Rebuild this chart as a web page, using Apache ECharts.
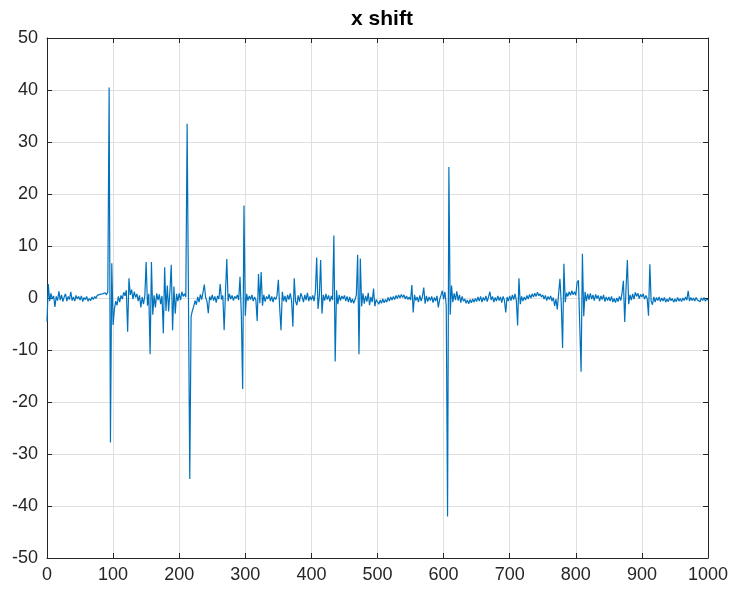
<!DOCTYPE html>
<html>
<head>
<meta charset="utf-8">
<title>x shift</title>
<script src="https://cdn.jsdelivr.net/npm/echarts@6/dist/echarts.min.js"></script>
<style>
  html, body { margin: 0; padding: 0; background: #fff; }
  #chart { width: 735px; height: 595px; }
</style>
</head>
<body>
<div id="chart"></div>
<script>
// samples are taken every 2 frames
const sampleStep = 2;
const xShift = [
  // 0 - 48
  -4.5, 2.7, -0.6, 0.9, -0.2, 0.4, -1.7, 0.3, -0.5, 1.3, -0.4, 0.6, -0.7, 0.2, 0.8, -0.6, 0.3, -0.3, 1.2, -0.5, 0.2, -0.6, 0.5, -0.2, 0.3,
  // 50 - 98
  -0.4, 0.4, -0.7, 0.1, -0.3, 0.3, -0.6, -0.1, -0.5, 0.2, -0.3, 0.3, -0.1, 0.5, 0.2, 0.7, 0.4, 0.8, 0.5, 1.0, 0.6, 1.2, 40.5, -27.8, 6.7,
  // 100 - 148
  -5.2, -2.1, -0.6, -1.4, 0.3, -0.8, 0.5, -0.2, 1.1, 0.4, 1.5, -6.5, 3.8, 0.6, 1.6, -0.2, 1.2, 0.1, 0.8, -0.6, 0.5, -1.8, 0.2, -1.2, 0.4,
  // 150 - 198
  6.9, -1.5, 0.8, -10.8, 6.9, -3.2, 0.5, -1.8, 0.9, -0.4, 0.7, -1.2, 0.4, -6.8, 5.9, -2.5, 2.4, -2.6, 1.4, 6.4, -6.2, 2.2, -3.0, 0.8, -0.6,
  // 200 - 248
  0.9, -0.4, 1.2, 0.3, 0.8, 0.2, 33.5, 0.4, -34.8, -3.6, -2.4, -1.6, -0.5, -1.3, 0.2, -0.8, 0.7, -0.3, 1.1, 2.6, 0.1, -0.6, -2.9, 0.3, -0.4,
  // 250 - 298
  0.6, -0.5, 0.3, -0.9, 0.4, -0.2, 2.7, -0.3, 0.5, -6.2, 1.0, 7.5, -0.6, 0.8, -0.2, 0.5, -0.5, 0.3, -0.1, 0.6, -0.4, 4.1, -3.2, -17.5, 17.8,
  // 300 - 348
  -3.4, 0.8, -0.5, 0.4, -0.3, 0.6, -0.6, 0.2, -0.4, -4.4, 4.6, -1.0, 5.0, -1.5, 0.6, -0.7, 0.3, -0.2, 0.7, -0.6, 0.3, -0.8, 0.2, -0.3, 0.5,
  // 350 - 398
  3.5, -1.8, -6.2, 1.2, -0.6, 0.4, -0.8, 0.6, -0.3, 0.9, -0.5, -5.5, 3.8, -0.6, -1.4, 0.5, -0.7, 0.9, 0.2, -0.8, 0.6, -0.4, 1.0, -0.6, 0.3,
  // 400 - 448
  -0.4, 0.5, -0.6, 1.1, 7.8, -2.1, 0.4, 7.3, -3.0, 0.6, -0.5, 0.8, -0.3, 0.5, -0.7, 0.4, -0.4, 12.0, -12.2, 1.5, -1.2, 0.6, -0.5, 0.4, -0.2,
  // 450 - 498
  0.5, -0.6, 0.3, -0.8, 0.2, -0.9, -0.2, -1.0, -0.3, 0.6, 8.3, -10.8, 7.6, -1.6, 0.9, -1.1, 0.4, -0.7, 1.0, -1.4, 0.2, -0.8, 1.8, -1.6, -0.3,
  // 500 - 548
  -0.6, -1.2, -0.4, -1.0, -0.2, -0.9, -0.3, -0.8, 0.1, -0.6, 0.2, -0.4, 0.3, -0.3, 0.5, -0.1, 0.6, 0.0, 0.7, 0.1, 0.6, -0.2, 0.4, -0.3, 0.2,
  // 550 - 598
  -0.4, 2.5, -2.8, 0.6, -0.5, 0.2, -0.8, 0.5, -0.6, 0.3, 2.0, -1.1, 0.4, -0.7, 0.2, -0.5, 0.3, -0.9, 0.1, -0.6, 0.4, -1.8, -0.3, 0.5, 1.4,
  // 600 - 648
  -0.2, 1.2, -1.5, -42.0, 25.2, -3.2, 2.4, -0.8, 0.9, -0.4, 1.3, -0.5, 0.6, -0.9, 0.3, -0.6, -0.2, -1.0, -0.4, -1.1, -0.3, -0.9, -0.2, -0.8, -0.1,
  // 650 - 698
  -0.7, 0.2, -0.6, 0.3, -0.8, 0.1, -0.5, 0.4, -0.7, 0.2, 1.2, -0.4, 0.3, -0.8, 0.1, -0.6, 0.4, -0.5, 0.2, -0.9, 0.3, -0.4, -2.8, 0.2, -0.6,
  // 700 - 748
  0.4, -0.5, 0.6, -0.3, 0.8, -0.4, -5.3, 3.8, -1.2, 0.3, -0.6, 0.2, -0.4, 0.5, -0.2, 0.7, 0.0, 0.8, 0.2, 0.9, 0.3, 1.1, 0.4, 0.8, 0.2,
  // 750 - 798
  0.6, -0.2, 0.5, -0.5, 0.3, -0.3, 0.4, -0.6, 0.1, -1.5, -0.2, -2.2, 0.8, 3.7, -1.0, -9.6, 6.6, -0.8, 1.0, 0.3, 1.2, 0.5, 1.4, 0.6, 1.2,
  // 800 - 848
  0.5, 3.0, 3.4, 3.2, -14.2, 8.5, -3.5, 1.2, -0.6, 0.8, -0.3, 0.9, -0.2, 0.6, -0.5, 0.7, -0.1, 0.5, -0.6, 0.4, -0.3, 0.6, -0.7, 0.2, -0.5,
  // 850 - 898
  0.2, -0.6, 0.3, -0.8, -0.1, -0.9, 0.0, -0.7, 0.3, -0.5, 1.0, 3.3, -4.6, 1.8, 7.3, -1.2, 0.6, -0.4, 0.8, -0.2, 1.1, 0.3, 0.9, -0.1, 0.7,
  // 900 - 948
  0.2, 0.8, -0.2, 0.5, -0.1, -3.4, 6.5, -0.6, -1.3, 0.2, -0.8, 0.1, -0.5, 0.2, -0.7, 0.0, -0.6, 0.1, -0.8, -0.2, -0.7, 0.1, -0.5, -0.1, -0.8,
  // 950 - 1000
  -0.2, -0.7, 0.1, -0.6, -0.1, -0.7, 0.0, -0.5, 0.2, -0.4, 1.4, -0.6, 0.1, -0.5, 0.0, -0.6, 0.1, -0.4, -0.1, -0.7, 0.0, -0.5, 0.1, -0.6, -0.2,
  -0.4
];
const xTicks = [0, 1000, 100];   // min, max, interval
const yTicks = [-50, 50, 10];

const axisColor = '#262626';
const gridColor = '#dfdfdf';
const fontName = '"Liberation Sans", Arial, Helvetica, sans-serif';

let chart = echarts.init(document.getElementById('chart'), null, { renderer: 'canvas' });

let seriesData = xShift.map(function (v, i) { return [i * sampleStep, v]; });

// MATLAB-like box: main axes + unlabelled copies on top/right
function boxAxis (pos, ticks, main) {
  return {
    type: 'value',
    position: pos,
    min: ticks[0],
    max: ticks[1],
    interval: ticks[2],
    axisLine: { show: true, onZero: false, lineStyle: { color: axisColor, width: 1 } },
    axisTick: { show: true, inside: true, length: 5, lineStyle: { color: axisColor } },
    axisLabel: {
      show: main,
      color: axisColor,
      fontSize: 18,
      fontFamily: fontName,
      margin: (pos == 'bottom') ? 8 : 9,
      formatter: function (v) { return String(v); }
    },
    splitLine: { show: main, lineStyle: { color: gridColor, width: 1 } }
  };
}

let option = {
  animation: false,
  backgroundColor: '#fff',
  title: {
    text: 'x shift',
    left: 377,
    top: 4,
    textAlign: 'center',
    textStyle: { fontSize: 21, fontWeight: 'bold', color: '#000', fontFamily: fontName }
  },
  grid: { left: 47, right: 27, top: 38, bottom: 37 },
  xAxis: [boxAxis('bottom', xTicks, true), boxAxis('top', xTicks, false)],
  yAxis: [boxAxis('left', yTicks, true), boxAxis('right', yTicks, false)],
  series: [
    {
      name: 'x shift',
      type: 'line',
      data: seriesData,
      showSymbol: false,
      sampling: null,
      lineStyle: { color: '#0072BD', width: 1.2 },
      itemStyle: { color: '#0072BD' }
    }
  ]
};
chart.setOption(option);
</script>
</body>
</html>
